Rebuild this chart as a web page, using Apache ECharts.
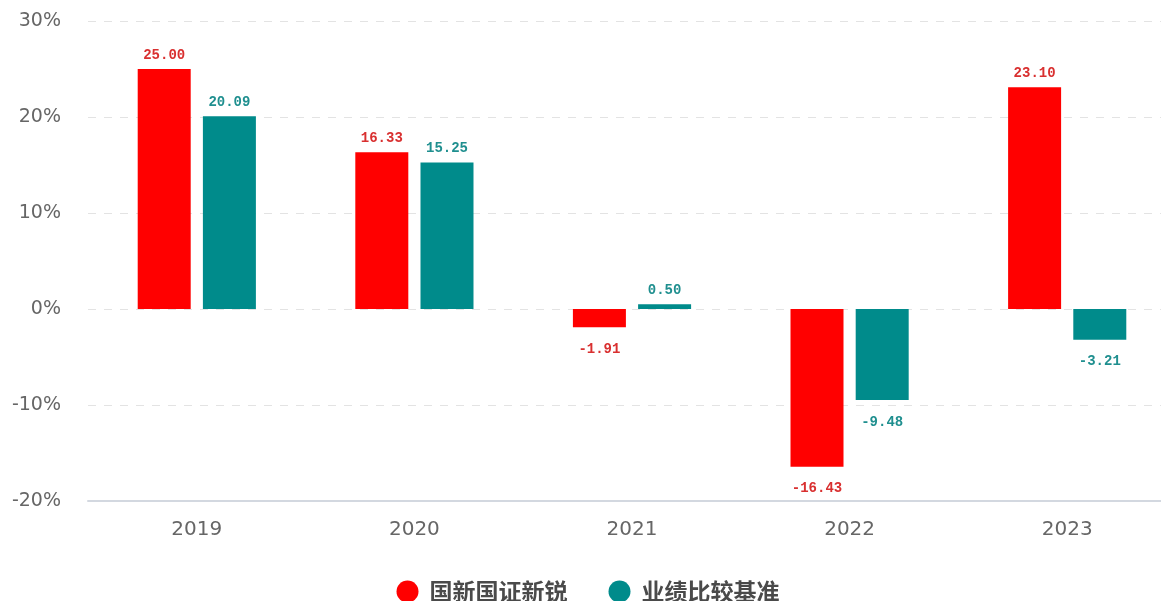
<!DOCTYPE html>
<html>
<head>
<meta charset="utf-8">
<script src="https://cdn.jsdelivr.net/npm/echarts@6/dist/echarts.min.js"></script>
<style>html,body{margin:0;padding:0;background:#fff;overflow:hidden}#c{width:1176px;height:601px}</style>
</head>
<body>
<div id="c"></div>
<script>
const categories = ['2019', '2020', '2021', '2022', '2023'];
const fundName = '国新国证新锐';
const benchName = '业绩比较基准';
const fundValues = [25.00, 16.33, -1.91, -16.43, 23.10];
const benchValues = [20.09, 15.25, 0.50, -9.48, -3.21];

function toData(arr) {
  return arr.map(v => ({ value: v, label: { position: v < 0 ? 'bottom' : 'top', distance: v < 0 ? 15 : 7 } }));
}

const chart = echarts.init(document.getElementById('c'));
chart.setOption({
  animation: false,
  grid: { left: 88, top: 21, right: 0, height: 480, containLabel: false },
  legend: {
    top: 575,
    left: 'center',
    icon: 'circle',
    itemWidth: 22,
    itemHeight: 22,
    itemGap: 41,
    textStyle: { fontSize: 23, color: '#4a4a4a', fontWeight: 'bold', fontFamily: 'Noto Sans CJK SC', padding: [0, 0, 0, 6] },
    data: [fundName, benchName]
  },
  xAxis: {
    type: 'category',
    data: categories,
    axisTick: { show: false },
    axisLine: { onZero: false, lineStyle: { color: '#d3d8e0', width: 2 } },
    axisLabel: { fontSize: 20, color: '#666', margin: 19, fontFamily: 'DejaVu Sans' }
  },
  yAxis: {
    type: 'value',
    min: -20,
    max: 30,
    interval: 10,
    axisLine: { show: false },
    axisTick: { show: false },
    axisLabel: { formatter: '{value}%', fontSize: 19, color: '#666', margin: 27, fontFamily: 'DejaVu Sans' },
    splitLine: { lineStyle: { type: [8, 8], color: '#e3e3e3' } }
  },
  series: [
    {
      name: fundName,
      type: 'bar',
      barWidth: 53,
      barGap: '23%',
      itemStyle: { color: '#ff0000' },
      label: { show: true, formatter: p => p.value.toFixed(2), fontSize: 14, color: '#d93030', fontFamily: 'Liberation Mono', fontWeight: 'bold' },
      data: toData(fundValues)
    },
    {
      name: benchName,
      type: 'bar',
      barWidth: 53,
      itemStyle: { color: '#008b8b' },
      label: { show: true, formatter: p => p.value.toFixed(2), fontSize: 14, color: '#1f8f8f', fontFamily: 'Liberation Mono', fontWeight: 'bold' },
      data: toData(benchValues)
    }
  ]
});
</script>
</body>
</html>
